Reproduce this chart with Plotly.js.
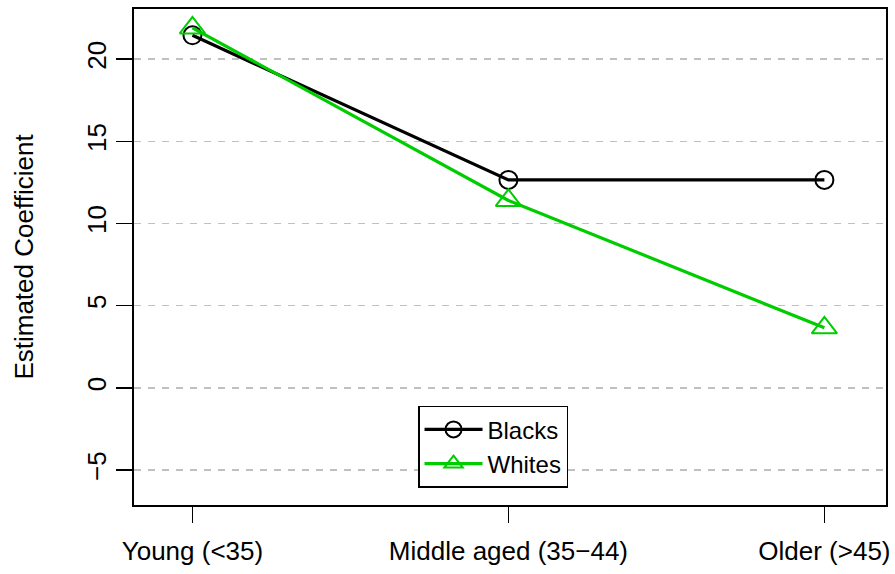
<!DOCTYPE html>
<html>
<head>
<meta charset="utf-8">
<script src="https://cdn.plot.ly/plotly-3.0.1.min.js"></script>
<style>html,body{margin:0;padding:0;background:#fff;}#chart{width:895px;height:574px;}</style>
</head>
<body>
<div id="chart"></div>
<script>
const categories = ["Young (<35)", "Middle aged (35\u221244)", "Older (>45)"];
const positions = [1, 2, 3];
const blacks = [21.45, 12.65, 12.65];
const whites = [21.9, 11.4, 3.65];
const yTicks = [-5, 0, 5, 10, 15, 20];
const yTickLabels = ["\u22125", "0", "5", "10", "15", "20"];

const FONT = "Liberation Sans, Arial, Helvetica, sans-serif";
const FS = 26;

const traces = [
  {
    x: positions, y: blacks, name: "Blacks", type: "scatter", mode: "lines+markers",
    line: {color: "#000000", width: 3.2},
    marker: {symbol: "circle-open", size: 18, color: "#000000", line: {width: 2, color: "#000000"}}
  },
  {
    x: positions, y: whites, name: "Whites", type: "scatter", mode: "lines+markers",
    line: {color: "#00CD00", width: 3.2},
    marker: {symbol: "triangle-up-open", size: 22, color: "#00CD00", line: {width: 2, color: "#00CD00"}}
  }
];

const layout = {
  width: 895, height: 574,
  margin: {l: 134, r: 9, t: 9, b: 69, pad: 0},
  paper_bgcolor: "#ffffff", plot_bgcolor: "#ffffff",
  font: {family: FONT, size: FS, color: "#000000"},
  showlegend: true,
  legend: {
    x: 0.3777, y: 0.2, xanchor: "left", yanchor: "top",
    bordercolor: "#000000", borderwidth: 1.5, bgcolor: "#ffffff",
    font: {family: FONT, size: FS - 2, color: "#000000"},
    itemwidth: 58, tracegroupgap: 0
  },
  xaxis: {
    range: [0.815, 3.195],
    tickvals: positions, ticktext: categories,
    ticks: "outside", ticklen: 16, tickwidth: 1.5, tickcolor: "#000000",
    showgrid: false, zeroline: false,
    showline: true, linecolor: "#000000", linewidth: 2, mirror: true,
    tickfont: {family: FONT, size: FS, color: "#000000"},
    ticklabelstandoff: 6
  },
  yaxis: {
    range: [-7.13, 23.05],
    tickvals: yTicks, ticktext: yTickLabels,
    tickangle: -90,
    ticks: "outside", ticklen: 16, tickwidth: 1.5, tickcolor: "#000000",
    showgrid: true, gridcolor: "#c0c0c0", gridwidth: 1.5, griddash: "7px,7px",
    zeroline: false,
    showline: true, linecolor: "#000000", linewidth: 2, mirror: true,
    tickfont: {family: FONT, size: FS, color: "#000000"},
    title: {text: "Estimated Coefficient", font: {family: FONT, size: FS, color: "#000000"}, standoff: 40}
  }
};

Plotly.newPlot("chart", traces, layout, {displayModeBar: false, staticPlot: true});
</script>
</body>
</html>
